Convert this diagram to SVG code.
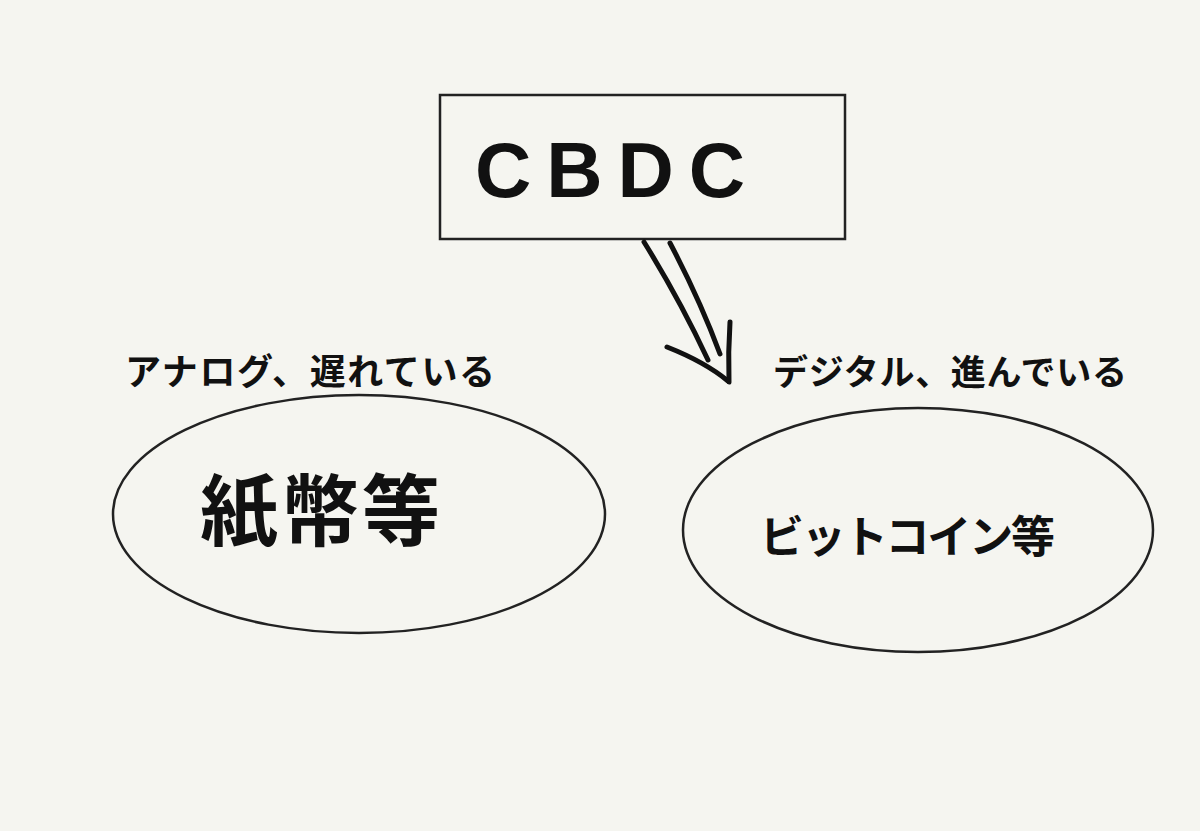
<svg xmlns="http://www.w3.org/2000/svg" width="1200" height="831" viewBox="0 0 1200 831">
<style>
.bg{fill:#f5f5f0}
.shape{fill:none;stroke:#222;stroke-width:2.5}
.ink{fill:none;stroke:#111;stroke-width:5;stroke-linecap:round;stroke-linejoin:round}
.jp{font-family:"Noto Sans CJK JP","Noto Sans",sans-serif;fill:#111;font-weight:bold}
.lat{font-family:"Liberation Sans",Arial,sans-serif;fill:#111;font-weight:bold}
</style>
<rect class="bg" x="0" y="0" width="1200" height="831"/>
<g id="cbdc">
<rect class="shape" x="440" y="95" width="405" height="144"/>
<text class="lat" x="475" y="197" font-size="78" textLength="270" lengthAdjust="spacing">CBDC</text>
</g>
<g id="paper">
<ellipse class="shape" cx="359" cy="514" rx="246" ry="119"/>
<text class="jp" x="200" y="540" font-size="78" textLength="240" lengthAdjust="spacing">紙幣等</text>
</g>
<g id="bitcoin">
<ellipse class="shape" cx="918" cy="530" rx="235" ry="122"/>
<text class="jp" x="760" y="553" font-size="44" textLength="295" lengthAdjust="spacing">ビットコイン等</text>
</g>
<g id="label-left">
<text class="jp" x="125" y="385" font-size="36" textLength="370" lengthAdjust="spacing">アナログ、遅れている</text>
</g>
<g id="label-right">
<text class="jp" x="773" y="385" font-size="35" textLength="354" lengthAdjust="spacing">デジタル、進んでいる</text>
</g>
<g id="connectors">
<path class="ink" d="M644,242 Q680,300 708,360"/>
<path class="ink" d="M670,243 Q700,300 720,354"/>
<path class="ink" d="M667,347 Q705,362 728,381"/>
<path class="ink" d="M730,322 Q728,352 729,382"/>
</g>
</svg>
